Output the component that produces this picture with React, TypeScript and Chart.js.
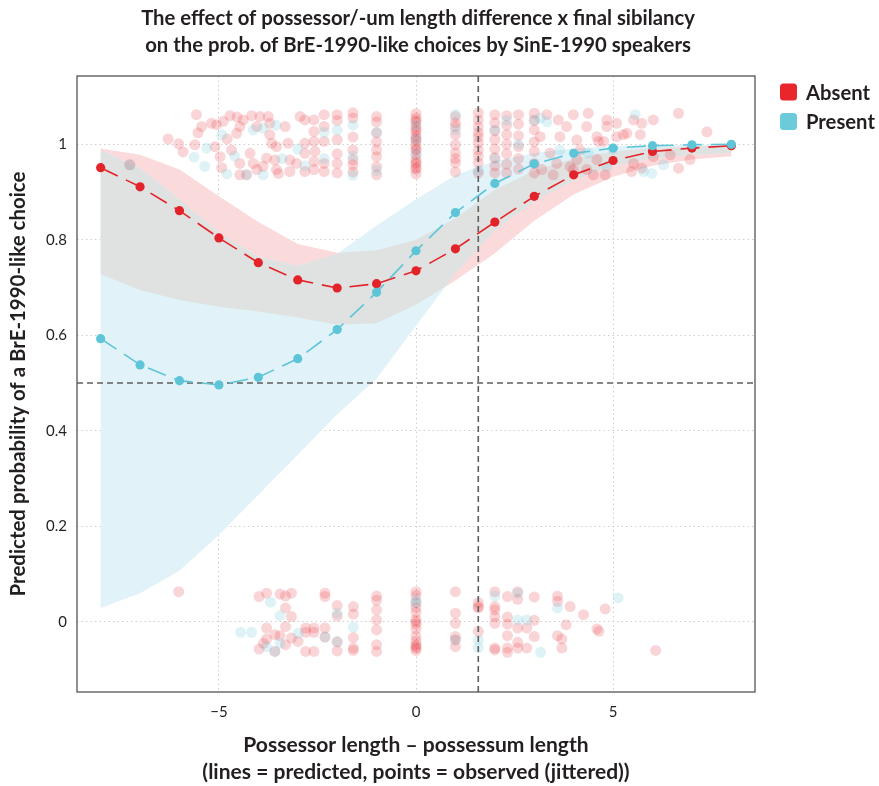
import React, { useEffect, useRef } from "react";
import { Chart, registerables } from "chart.js";

Chart.register(...registerables);

// ---------- axis limits & reference lines ----------
const X_MIN = -8.6;
const X_MAX = 8.6;
const Y_MIN = -0.147;
const Y_MAX = 1.143;
const X_TICK_STEP = 5;
const Y_TICK_STEP = 0.2;
const REF_X = 1.58;
const REF_Y = 0.5;

// ---------- text ----------
const TITLE_LINES = [
  "The effect of possessor/-um length difference x final sibilancy",
  "on the prob. of BrE-1990-like choices by SinE-1990 speakers",
];
const X_TITLE = [
  "Possessor length \u2013 possessum length",
  "(lines = predicted, points = observed (jittered))",
];
const Y_TITLE = "Predicted probability of a BrE-1990-like choice";
const SERIES_NAMES = ["Absent", "Present"];

// ---------- predicted values ----------
const X_PRED = [-8, -7, -6, -5, -4, -3, -2, -1, 0, 1, 2, 3, 4, 5, 6, 7, 8];
const ABSENT_FIT = [0.951, 0.911, 0.861, 0.804, 0.752, 0.716, 0.699, 0.708, 0.735, 0.781, 0.837, 0.891, 0.936, 0.966, 0.985, 0.992, 0.997];
const ABSENT_LO = [0.728, 0.695, 0.674, 0.66, 0.65, 0.637, 0.622, 0.625, 0.664, 0.715, 0.772, 0.84, 0.895, 0.932, 0.955, 0.968, 0.975];
const ABSENT_HI = [0.991, 0.978, 0.947, 0.891, 0.837, 0.791, 0.773, 0.778, 0.8, 0.845, 0.905, 0.945, 0.97, 0.985, 0.992, 0.996, 0.998];
const PRESENT_FIT = [0.593, 0.538, 0.505, 0.496, 0.512, 0.551, 0.612, 0.69, 0.777, 0.857, 0.918, 0.959, 0.981, 0.992, 0.997, 0.999, 1.0];
const PRESENT_LO = [0.029, 0.06, 0.107, 0.182, 0.266, 0.35, 0.434, 0.509, 0.62, 0.73, 0.82, 0.88, 0.925, 0.955, 0.97, 0.978, 0.982];
const PRESENT_HI = [0.988, 0.95, 0.885, 0.815, 0.765, 0.745, 0.77, 0.83, 0.885, 0.935, 0.965, 0.982, 0.991, 0.996, 0.998, 0.999, 1.0];

// ---------- observed (jittered) points ----------
const ABSENT_OBS_TOP = [
  [-7.26, 0.957], [-6.29, 1.011], [-6.02, 1.001], [-5.91, 0.984], [-5.57, 1.062], [-5.44, 1.037], [-5.53, 1.024], [-5.61, 0.999],
  [-5.19, 1.044], [-5.1, 0.995], [-5.06, 1.041], [-4.97, 0.974], [-4.93, 0.951], [-4.89, 1.048], [-4.72, 1.06], [-4.54, 1.057],
  [-4.47, 1.037], [-4.55, 1.023], [-4.38, 1.051], [-4.79, 1.011], [-4.68, 0.988], [-4.47, 0.96], [-4.47, 0.936], [-4.3, 0.936],
  [-4.21, 0.981], [-4.17, 1.06], [-4.04, 1.037], [-3.96, 1.058], [-3.75, 1.058], [-3.71, 1.044], [-4.13, 0.96], [-4.04, 0.947],
  [-3.88, 0.954], [-3.79, 0.971], [-3.71, 1.02], [-3.66, 1.002], [-3.54, 0.995], [-3.58, 0.967], [-3.54, 0.947], [-3.49, 0.939],
  [-3.32, 1.037], [-3.25, 1.002], [-3.2, 0.967], [-3.2, 0.943], [-3.03, 0.96], [-2.94, 1.058], [-2.82, 1.051], [-2.82, 1.002],
  [-2.82, 0.981], [-2.82, 0.943], [-2.59, 1.051], [-2.59, 1.027], [-2.59, 1.006], [-2.56, 0.985], [-2.59, 0.964], [-2.59, 0.947],
  [-2.33, 1.062], [-2.33, 1.037], [-2.33, 1.006], [-2.33, 0.96], [-2.33, 0.943],
  [-2, 1.062], [-2, 1.05], [-2, 1.01], [-2, 0.98], [-2, 0.96], [-2, 0.94],
  [-1.6, 1.066], [-1.6, 1.055], [-1.6, 1.015], [-1.6, 0.988], [-1.6, 0.967], [-1.6, 0.957], [-1.6, 0.942],
  [-1, 1.058], [-1, 1.047], [-1, 1.024], [-1, 1.005], [-1, 0.988], [-1, 0.974], [-1, 0.953], [-1, 0.936],
  [0, 1.064], [0, 1.055], [0, 1.046], [0, 1.036], [0, 1.026], [0, 1.017], [0, 1.007], [0, 0.998], [0, 0.988], [0, 0.978],
  [0, 0.968], [0, 0.958], [0, 0.948], [0, 0.938], [0, 1.03], [0, 0.99], [0, 0.95], [0, 1.05], [0, 1.012], [0, 0.962],
  [1, 1.058], [1, 1.037], [1, 1.02], [1, 0.999], [1, 0.982], [1, 0.961], [1, 0.942], [1, 1.045], [1, 0.97],
  [1.58, 1.066], [1.58, 1.051], [1.58, 1.037], [1.58, 1.024], [1.58, 1.003], [1.58, 0.988], [1.58, 0.961], [1.58, 0.94], [1.58, 1.015], [1.58, 0.975],
  [2, 1.062], [2, 1.045], [2, 1.028], [2, 1.01], [2, 0.99], [2, 0.972], [2, 0.955], [2, 0.94],
  [2.3, 1.06], [2.3, 1.04], [2.3, 1.02], [2.3, 1.0], [2.3, 0.98], [2.3, 0.958], [2.3, 0.94],
  [2.6, 1.062], [2.6, 1.042], [2.6, 1.018], [2.6, 0.995], [2.6, 0.97], [2.6, 0.948],
  [3, 1.065], [3, 1.05], [3, 1.03], [3, 1.005], [3, 0.985], [3, 0.96], [3, 0.94],
  [3.15, 1.016], [3.19, 0.947], [3.32, 1.062], [3.4, 0.982], [3.48, 0.936], [3.57, 0.96], [3.61, 1.051], [3.65, 1.016],
  [3.82, 1.037], [3.91, 0.953], [3.99, 1.062], [3.99, 0.947], [4.08, 1.009], [4.08, 0.968], [4.16, 0.988], [4.33, 1.037],
  [4.33, 0.947], [4.37, 1.065], [4.5, 0.936], [4.59, 1.016], [4.59, 0.968], [4.63, 1.006], [4.76, 1.006], [4.8, 0.936],
  [4.84, 1.037], [4.84, 1.051], [5.09, 1.044], [5.09, 1.016], [5.26, 1.02], [5.35, 1.023], [5.47, 0.943], [5.52, 1.051],
  [5.52, 0.96], [5.69, 1.02], [5.73, 1.044], [5.73, 0.95], [6.02, 0.974], [6.02, 1.051], [6.45, 0.978], [6.66, 0.95],
  [6.66, 1.065], [6.95, 0.968], [7.38, 1.026],
];
const ABSENT_OBS_BOTTOM = [
  [-6.02, 0.063], [-3.98, 0.053], [-3.79, 0.06], [-3.45, 0.058], [-3.31, 0.054], [-3.16, 0.06], [-3.31, 0.029], [-3.16, 0.011],
  [-3.31, -0.01], [-3.79, -0.013], [-3.58, -0.027], [-3.45, -0.029], [-3.79, -0.036], [-3.87, -0.045], [-3.98, -0.057],
  [-3.31, -0.048], [-3.16, -0.034], [-2.99, -0.041], [-3.58, -0.062], [-2.8, -0.013], [-2.8, -0.022], [-2.8, -0.062], [-2.59, -0.013],
  [-2.59, -0.022], [-2.59, -0.062], [-2.31, 0.06], [-2.31, 0.053], [-2.31, -0.013], [-2.31, -0.032], [-2, 0.034], [-2, 0.012],
  [-2, -0.042], [-2, -0.061], [-1.59, 0.032], [-1.59, 0.016], [-1.59, -0.033], [-1.59, -0.055], [-1.59, -0.06],
  [-1, 0.054], [-1, 0.045], [-1, 0.025], [-1, 0.004], [-1, -0.017], [-1, -0.048], [-1, -0.062],
  [0, 0.063], [0, 0.055], [0, 0.04], [0, 0.03], [0, 0.02], [0, 0.005], [0, -0.005], [0, -0.015], [0, -0.03], [0, -0.04],
  [0, -0.048], [0, -0.052], [0, -0.055], [0, -0.06], [0, 0.0],
  [1, 0.063], [1, 0.018], [1, -0.003], [1, -0.031], [1, -0.038], [1, -0.052],
  [1.58, 0.04], [1.58, 0.032], [1.58, 0.029], [1.58, -0.02],
  [2, 0.063], [2, 0.032], [2, 0.025], [2, 0.011], [2, -0.003], [2, -0.055], [2, -0.059],
  [2.32, 0.053], [2.32, 0.01], [2.32, -0.005], [2.32, -0.029], [2.32, -0.055], [2.32, -0.064],
  [2.58, 0.063], [2.58, 0.047], [2.58, -0.013], [2.58, -0.043], [2.58, -0.055], [2.81, -0.013], [2.81, -0.055],
  [3, 0.052], [3, 0.003], [3, -0.031], [3.59, 0.054], [3.59, 0.043], [3.59, -0.029], [3.7, -0.036], [3.7, -0.055],
  [3.81, -0.006], [3.91, 0.032], [4.25, 0.015], [4.59, -0.015], [4.64, -0.02], [4.8, 0.027], [6.08, -0.06],
];
const PRESENT_OBS_TOP = [
  [-7.26, 0.957], [-5.63, 0.973], [-5.36, 0.954], [-5.31, 0.992], [-4.93, 1.02], [-4.8, 0.938], [-4.6, 0.975], [-4.3, 0.936],
  [-4.13, 1.03], [-3.88, 0.936], [-3.88, 1.034], [-3.55, 1.04], [-3.4, 0.97], [-3.0, 0.99], [-2.82, 0.955], [-2.33, 0.97],
  [-2.33, 1.025], [-2, 1.03], [-1.6, 1.04], [-1.6, 0.975], [-1.6, 0.935], [-1, 1.025], [-1, 0.945], [0, 1.04], [0, 0.98],
  [0, 1.01], [1, 1.03], [1, 1.062], [1.58, 0.945], [2, 1.03], [2, 0.97], [2.3, 1.05], [2.6, 1.0], [3, 1.05], [3.15, 1.055],
  [3.32, 1.047], [3.65, 0.988], [4.37, 0.982], [4.84, 0.953], [5.0, 0.99], [5.56, 1.062], [5.77, 0.943], [5.98, 0.939], [6.28, 0.957],
];
const PRESENT_OBS_BOTTOM = [
  [-4.45, -0.022], [-4.17, -0.022], [-3.69, 0.041], [-3.45, 0.013], [-3.79, -0.052], [-3.45, -0.045], [-2.99, -0.024],
  [-3.58, -0.062], [-2.31, -0.032], [-2, 0.018], [-2, -0.042], [-1.59, -0.011], [0, 0.046], [0, 0.04], [1, -0.038],
  [1.58, -0.038], [1.58, -0.054], [2, 0.054], [2.58, 0.06], [2.58, 0.004], [2.81, 0.004], [3.16, -0.064], [3.59, 0.029], [5.13, 0.05],
];

// ---------- styling ----------
const FONT = "Lato, 'Open Sans', 'DejaVu Sans', sans-serif";
const ABSENT_COLOR = "#E3232A";
const PRESENT_COLOR = "#5EC5D9";
const ABSENT_LEGEND = "#E8262C";
const PRESENT_LEGEND = "#6CCBDB";
const ABSENT_OBS_COLOR = "rgba(232, 45, 55, 0.2)";
const PRESENT_OBS_COLOR = "rgba(95, 195, 215, 0.2)";
const RIBBON_ABSENT = "#FBDADB";
const RIBBON_PRESENT = "#E1F3F8";
const RIBBON_BOTH = "#DFE2E1";
const TEXT_COLOR = "#231F20";

const W = 879;
const H = 786;

function fitSize(text: string, weight: string, target: number): number {
  const c = document.createElement("canvas").getContext("2d")!;
  c.font = `${weight} 20px ${FONT}`;
  const w = c.measureText(text).width || 1;
  return (20 * target) / w;
}

const toPts = (arr: number[][]) => arr.map(([x, y]) => ({ x, y }));

export default function App() {
  const ref = useRef<HTMLCanvasElement | null>(null);

  useEffect(() => {
    const canvas = ref.current;
    if (!canvas) return;

    const titleSize = (fitSize(TITLE_LINES[0], "bold", 557) + fitSize(TITLE_LINES[1], "bold", 543)) / 2;
    const xTitleSize = (fitSize(X_TITLE[0], "bold", 342) + fitSize(X_TITLE[1], "bold", 432)) / 2;
    const yTitleSize = fitSize(Y_TITLE, "bold", 425);
    const legendSize = (fitSize(SERIES_NAMES[0], "bold", 64) + fitSize(SERIES_NAMES[1], "bold", 69)) / 2;

    const ribbons = {
      id: "ribbons",
      beforeDatasetsDraw(chart: any) {
        const { ctx, chartArea: a, scales } = chart;
        const xs = scales.x;
        const ys = scales.y;
        const band = (lo: number[], hi: number[]) => {
          const p = new Path2D();
          X_PRED.forEach((v, i) => {
            const px = xs.getPixelForValue(v);
            const py = ys.getPixelForValue(hi[i]);
            if (i === 0) p.moveTo(px, py);
            else p.lineTo(px, py);
          });
          for (let i = X_PRED.length - 1; i >= 0; i--) {
            p.lineTo(xs.getPixelForValue(X_PRED[i]), ys.getPixelForValue(lo[i]));
          }
          p.closePath();
          return p;
        };
        const red = band(ABSENT_LO, ABSENT_HI);
        const blue = band(PRESENT_LO, PRESENT_HI);
        ctx.save();
        ctx.beginPath();
        ctx.rect(a.left, a.top, a.right - a.left, a.bottom - a.top);
        ctx.clip();
        ctx.fillStyle = RIBBON_ABSENT;
        ctx.fill(red);
        ctx.fillStyle = RIBBON_PRESENT;
        ctx.fill(blue);
        ctx.clip(red);
        ctx.fillStyle = RIBBON_BOTH;
        ctx.fill(blue);
        ctx.restore();
      },
    };

    const decorations = {
      id: "decorations",
      afterDraw(chart: any) {
        const { ctx, chartArea: a } = chart;
        ctx.save();
        // panel border
        ctx.strokeStyle = "#555555";
        ctx.lineWidth = 1.3;
        ctx.strokeRect(a.left, a.top, a.right - a.left, a.bottom - a.top);
        // title
        const cx = (a.left + a.right) / 2 + 2;
        ctx.fillStyle = TEXT_COLOR;
        ctx.textAlign = "center";
        ctx.textBaseline = "middle";
        ctx.font = `bold ${titleSize}px ${FONT}`;
        ctx.fillText(TITLE_LINES[0], cx, 18);
        ctx.fillText(TITLE_LINES[1], cx, 45);
        // legend
        const items = [
          { name: SERIES_NAMES[0], color: ABSENT_LEGEND, y: 92 },
          { name: SERIES_NAMES[1], color: PRESENT_LEGEND, y: 121.5 },
        ];
        items.forEach((it) => {
          ctx.fillStyle = it.color;
          ctx.beginPath();
          (ctx as any).roundRect(780, it.y - 8.5, 17, 17, 3.5);
          ctx.fill();
          ctx.fillStyle = TEXT_COLOR;
          ctx.textAlign = "left";
          ctx.font = `bold ${legendSize}px ${FONT}`;
          ctx.fillText(it.name, 806, it.y + 1);
        });
        ctx.restore();
      },
    };

    const lineDs = (label: string, fit: number[], color: string, order: number) => ({
      label,
      data: X_PRED.map((x, i) => ({ x, y: fit[i] })),
      showLine: true,
      borderColor: color,
      borderWidth: 1.6,
      borderDash: [19, 9],
      backgroundColor: color,
      pointBackgroundColor: color,
      pointBorderWidth: 0,
      pointRadius: 4.6,
      order,
    });

    const obsDs = (label: string, pts: number[][], color: string, order: number) => ({
      label,
      data: toPts(pts),
      showLine: false,
      backgroundColor: color,
      pointBackgroundColor: color,
      pointBorderWidth: 0,
      borderWidth: 0,
      pointRadius: 5.5,
      order,
    });

    const refDs = (label: string, pts: { x: number; y: number }[]) => ({
      label,
      data: pts,
      showLine: true,
      borderColor: "#5f5f5f",
      borderWidth: 1.6,
      borderDash: [6, 4],
      pointRadius: 0,
      order: 2,
    });

    const chart = new Chart(canvas, {
      type: "scatter",
      data: {
        datasets: [
          lineDs(SERIES_NAMES[1], PRESENT_FIT, PRESENT_COLOR, 0),
          lineDs(SERIES_NAMES[0], ABSENT_FIT, ABSENT_COLOR, 1),
          refDs("ref-y", [{ x: X_MIN, y: REF_Y }, { x: X_MAX, y: REF_Y }]),
          refDs("ref-x", [{ x: REF_X, y: Y_MIN }, { x: REF_X, y: Y_MAX }]),
          obsDs("obs-absent-top", ABSENT_OBS_TOP, ABSENT_OBS_COLOR, 4),
          obsDs("obs-absent-bottom", ABSENT_OBS_BOTTOM, ABSENT_OBS_COLOR, 4),
          obsDs("obs-present-top", PRESENT_OBS_TOP, PRESENT_OBS_COLOR, 3),
          obsDs("obs-present-bottom", PRESENT_OBS_BOTTOM, PRESENT_OBS_COLOR, 3),
        ] as any,
      },
      options: {
        animation: false,
        responsive: false,
        devicePixelRatio: 1,
        layout: { padding: { top: 76, right: 124, left: 0, bottom: 0 } },
        plugins: {
          legend: { display: false },
          tooltip: { enabled: false },
          title: { display: false },
        },
        scales: {
          x: {
            type: "linear",
            min: X_MIN,
            max: X_MAX,
            afterFit: (s: any) => {
              s.height = 94;
            },
            ticks: {
              stepSize: X_TICK_STEP,
              includeBounds: false,
              padding: 11,
              color: TEXT_COLOR,
              font: { family: FONT, size: 15 },
              callback: (v: any) => (v < 0 ? "\u2212" + Math.abs(v) : String(v)),
            },
            grid: { color: "#cfcfcf", lineWidth: 1, drawTicks: false },
            border: { display: false, dash: [1.5, 3] },
            title: {
              display: true,
              text: X_TITLE,
              color: TEXT_COLOR,
              font: { family: FONT, weight: "bold", size: xTitleSize, lineHeight: 27 / xTitleSize },
              padding: { top: 0, bottom: 0.5 },
            },
          },
          y: {
            type: "linear",
            min: Y_MIN,
            max: Y_MAX,
            afterFit: (s: any) => {
              s.width = 77;
            },
            ticks: {
              stepSize: Y_TICK_STEP,
              includeBounds: false,
              padding: 10,
              color: TEXT_COLOR,
              font: { family: FONT, size: 15 },
              callback: (v: any) => String(Number(Number(v).toFixed(1))),
            },
            grid: { color: "#cfcfcf", lineWidth: 1, drawTicks: false },
            border: { display: false, dash: [1.5, 3] },
            title: {
              display: true,
              text: Y_TITLE,
              color: TEXT_COLOR,
              font: { family: FONT, weight: "bold", size: yTitleSize, lineHeight: 1.2 },
              padding: { top: 18 - 0.6 * yTitleSize, bottom: 0 },
            },
          },
        },
      } as any,
      plugins: [ribbons, decorations],
    });

    return () => chart.destroy();
  }, []);

  return (
    <canvas
      ref={ref}
      width={W}
      height={H}
      style={{ position: "fixed", left: 0, top: 0, width: W, height: H, background: "#ffffff" }}
    />
  );
}
